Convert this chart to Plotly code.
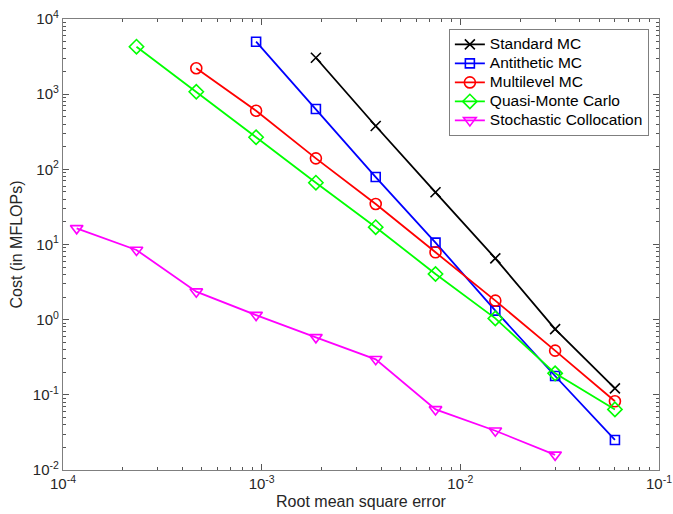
import plotly.graph_objects as go

# RMSE levels (x)
x_std = [1.875e-3, 3.75e-3, 7.5e-3, 1.5e-2, 3e-2, 6e-2]
x_anti = [9.375e-4, 1.875e-3, 3.75e-3, 7.5e-3, 1.5e-2, 3e-2, 6e-2]
x_mlmc = [4.6875e-4, 9.375e-4, 1.875e-3, 3.75e-3, 7.5e-3, 1.5e-2, 3e-2, 6e-2]
x_qmc = [2.34375e-4, 4.6875e-4, 9.375e-4, 1.875e-3, 3.75e-3, 7.5e-3, 1.5e-2, 3e-2, 6e-2]
x_sc = [1.171875e-4, 2.34375e-4, 4.6875e-4, 9.375e-4, 1.875e-3, 3.75e-3, 7.5e-3, 1.5e-2, 3e-2]

# Cost in MFLOPs (y)
y_std = [3050, 377, 49.5, 6.55, 0.75, 0.122]
y_anti = [4990, 634, 79, 10.6, 1.32, 0.178, 0.0251]
y_mlmc = [2210, 602, 140, 34.6, 7.87, 1.79, 0.387, 0.082]
y_qmc = [4280, 1078, 267, 66.4, 17.0, 4.05, 1.04, 0.193, 0.064]
y_sc = [16.4, 8.45, 2.36, 1.15, 0.582, 0.297, 0.064, 0.0333, 0.0159]

names = ["Standard MC", "Antithetic MC", "Multilevel MC", "Quasi-Monte Carlo", "Stochastic Collocation"]

x_tickvals = [1e-4, 1e-3, 1e-2, 1e-1]
x_ticktext = ["10<sup>-4</sup>", "10<sup>-3</sup>", "10<sup>-2</sup>", "10<sup>-1</sup>"]
y_tickvals = [1e-2, 1e-1, 1e0, 1e1, 1e2, 1e3, 1e4]
y_ticktext = ["10<sup>-2</sup>", "10<sup>-1</sup>", "10<sup>0</sup>", "10<sup>1</sup>",
              "10<sup>2</sup>", "10<sup>3</sup>", "10<sup>4</sup>"]

FONT = "Liberation Sans, Arial, sans-serif"

series = [
    (x_std, y_std, "#000000", "x-thin-open", 10),
    (x_anti, y_anti, "#0000ff", "square-open", 9),
    (x_mlmc, y_mlmc, "#ff0000", "circle-open", 11),
    (x_qmc, y_qmc, "#00ff00", "diamond-open", 11),
    (x_sc, y_sc, "#ff00ff", "triangle-down-open", 11),
]

fig = go.Figure()
for (xs, ys, col, sym, sz), nm in zip(series, names):
    fig.add_trace(go.Scatter(
        x=xs, y=ys,
        name='<span style="font-size:15.5px">' + nm + '</span>',
        mode="lines+markers",
        line=dict(color=col, width=1.8),
        marker=dict(symbol=sym, size=sz, color=col, line=dict(color=col, width=1.6)),
    ))

def minor_vals(lo, hi):
    vals = []
    for e in range(lo, hi):
        for m in range(2, 10):
            vals.append(m * 10 ** e)
    return vals

axis_common = dict(
    type="log", showgrid=False, zeroline=False, automargin=False,
    showline=True, linecolor="#7f7f7f", linewidth=1.2, mirror="ticks",
    ticks="inside", ticklen=6, tickcolor="#555555", tickwidth=1,
    tickfont=dict(family=FONT, size=15, color="#262626"),
)

fig.update_xaxes(
    **axis_common,
    range=[-4, -1], tickmode="array", tickvals=x_tickvals, ticktext=x_ticktext,
    minor=dict(tickmode="array", tickvals=minor_vals(-4, -1), ticks="inside", ticklen=3,
               tickcolor="#555555", showgrid=False),
    title=dict(text="Root mean square error", standoff=4,
               font=dict(family=FONT, size=16, color="#262626")),
)
fig.update_yaxes(
    **axis_common,
    range=[-2, 4], tickmode="array", tickvals=y_tickvals, ticktext=y_ticktext,
    minor=dict(tickmode="array", tickvals=minor_vals(-2, 4), ticks="inside", ticklen=3,
               tickcolor="#555555", showgrid=False),
    title=dict(text="Cost (in MFLOPs)", standoff=6,
               font=dict(family=FONT, size=16, color="#262626")),
)

fig.update_layout(
    width=673, height=514,
    margin=dict(l=63, r=14, t=19, b=44),
    plot_bgcolor="white", paper_bgcolor="white",
    font=dict(family=FONT, color="#262626"),
    legend=dict(
        x=0.983, y=0.978, xanchor="right", yanchor="top",
        bgcolor="white", bordercolor="#7f7f7f", borderwidth=1,
        font=dict(family=FONT, size=11, color="#000000"),
        tracegroupgap=0, itemwidth=30,
    ),
    showlegend=True,
)

fig.write_html(
    "out.html",
    config={"displayModeBar": False},
    post_script="document.body.style.margin='0';document.body.style.overflow='hidden';",
)
